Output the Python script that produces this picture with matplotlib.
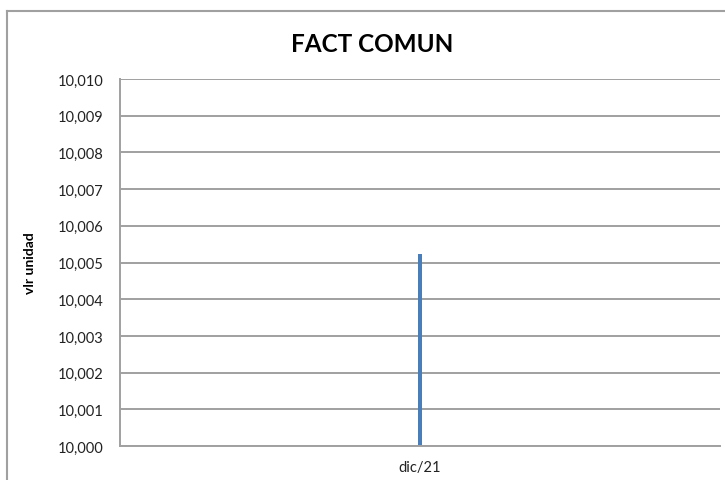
import matplotlib.pyplot as plt
from matplotlib.lines import Line2D
from matplotlib.ticker import FuncFormatter, MultipleLocator

categorias = ["dic/21"]
valores = [10.00523]

plt.rcParams['font.family'] = ['Lato', 'DejaVu Sans']

fig = plt.figure(figsize=(7.25, 4.81), dpi=100)
ax = fig.add_axes([120 / 725, 1 - 447 / 481, 600 / 725, 367 / 481])

ax.bar(categorias, [v - 10.0 for v in valores], bottom=10.0, width=0.007, color='#4a7ebb')
ax.set_xlim(-0.5, 0.5)
ax.set_ylim(10.0, 10.01)

ax.yaxis.set_major_locator(MultipleLocator(0.001))
ax.yaxis.set_major_formatter(FuncFormatter(lambda v, p: f"{v:.3f}".replace('.', ',')))
ax.grid(axis='y', color='#a0a0a0', linewidth=1.4)
ax.set_axisbelow(True)

for s in ['top', 'right']:
    ax.spines[s].set_visible(False)
for s in ['left', 'bottom']:
    ax.spines[s].set_color('#a0a0a0')
    ax.spines[s].set_linewidth(1.4)

ax.tick_params(axis='both', length=0, labelsize=10.5, colors='#222222', pad=12)
ax.tick_params(axis='x', pad=10)

ax.set_ylabel('vlr unidad', fontsize=10, fontweight='bold')
ax.yaxis.set_label_coords(-0.14, 0.5)

fig.text(372 / 725, 1 - 45 / 481, 'FACT COMUN', ha='center', va='center',
         fontsize=17.5, fontweight='bold')

# marco del grafico
fig.add_artist(Line2D([7 / 725, 7 / 725], [0, 1 - 12 / 481], transform=fig.transFigure,
                      color='#a0a0a0', linewidth=1.5))
fig.add_artist(Line2D([7 / 725, 1], [1 - 12 / 481, 1 - 12 / 481], transform=fig.transFigure,
                      color='#a0a0a0', linewidth=1.5))

fig.savefig('out.png', dpi=100)
